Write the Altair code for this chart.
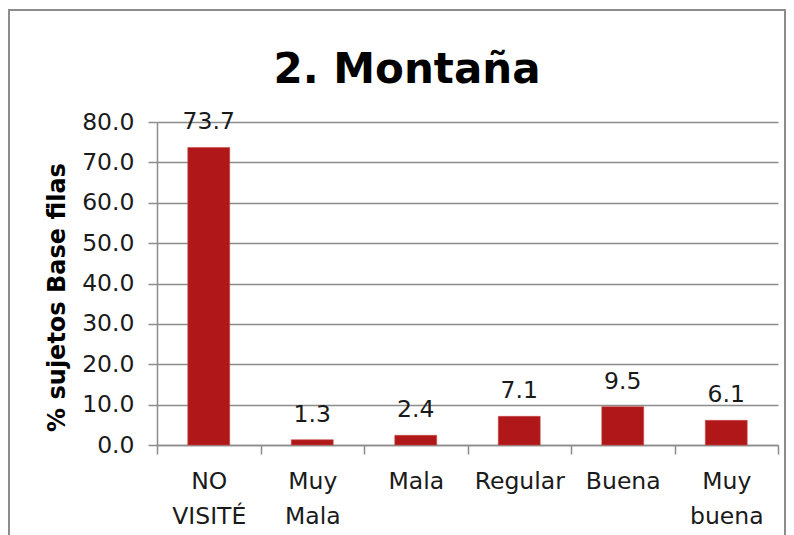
import altair as alt
import pandas as pd

categories = ["NO VISITÉ", "Muy Mala", "Mala", "Regular", "Buena", "Muy buena"]
values = [73.7, 1.3, 2.4, 7.1, 9.5, 6.1]
y_ticks = [0, 10, 20, 30, 40, 50, 60, 70, 80]
chart_title = "2. Montaña"

df = pd.DataFrame({"cat": categories, "val": values})

FONT = "DejaVu Sans"
FS = 23.5
W, H = 621, 323

x_enc = alt.X(
    "cat:N",
    sort=categories,
    scale=alt.Scale(paddingInner=0, paddingOuter=0),
    axis=alt.Axis(
        title=None,
        labelAngle=0,
        labelExpr="isValid(datum.value) ? split(datum.value, ' ') : ''",
        labelFont=FONT,
        labelFontSize=FS,
        labelColor="#1a1a1a",
        labelPadding=15,
        labelLineHeight=35,
        labelBaseline="top",
        tickBand="extent",
        tickSize=9,
        tickColor="#8c8c8c",
        tickWidth=1.5,
        domainColor="#8c8c8c",
        domainWidth=1.5,
        grid=False,
    ),
)

y_enc = alt.Y(
    "val:Q",
    scale=alt.Scale(domain=[0, 80], nice=False),
    axis=alt.Axis(
        title="% sujetos Base filas",
        titleFont=FONT,
        titleFontSize=24,
        titleFontWeight="bold",
        titleColor="#000000",
        titleX=-100,
        titleY=175,
        titleAngle=270,
        titleAlign="center",
        titleBaseline="middle",
        values=y_ticks,
        format=".1f",
        labelFont=FONT,
        labelFontSize=FS,
        labelColor="#1a1a1a",
        labelPadding=14,
        tickSize=9,
        tickColor="#8c8c8c",
        tickWidth=1.5,
        gridColor="#8c8c8c",
        gridWidth=1.5,
        domainColor="#8c8c8c",
        domainWidth=1.5,
    ),
)

bars = alt.Chart(df).mark_bar(
    color="#B01718", stroke="#c84a4a", strokeWidth=0.6, width={"band": 0.405}
).encode(x=x_enc, y=y_enc)

labels = alt.Chart(df).mark_text(
    font=FONT, fontSize=FS, color="#1a1a1a", baseline="alphabetic", dy=-18
).encode(
    x=alt.X("cat:N", sort=categories),
    y=alt.Y("val:Q"),
    text=alt.Text("val:Q", format=".1f"),
)

frame = alt.Chart(df).mark_rect(
    fill=None, stroke="#8c8c8c", strokeWidth=2
).encode(
    x=alt.value(-148), x2=alt.value(628), y=alt.value(-112), y2=alt.value(440)
)

title = alt.Chart(pd.DataFrame({"t": [chart_title]})).mark_text(
    font=FONT, fontSize=42, fontWeight="bold", color="#000000",
    align="center", baseline="alphabetic"
).encode(x=alt.value(250), y=alt.value(-39), text="t:N")

chart = (
    alt.layer(frame, bars, labels, title)
    .properties(
        width=W,
        height=H,
        autosize=alt.AutoSizeParams(type="none"),
        padding={"left": 149, "top": 114, "right": 8, "bottom": 90},
    )
    .configure_view(stroke=None)
)

chart.save("out.html", embed_options={"renderer": "svg", "actions": False})
